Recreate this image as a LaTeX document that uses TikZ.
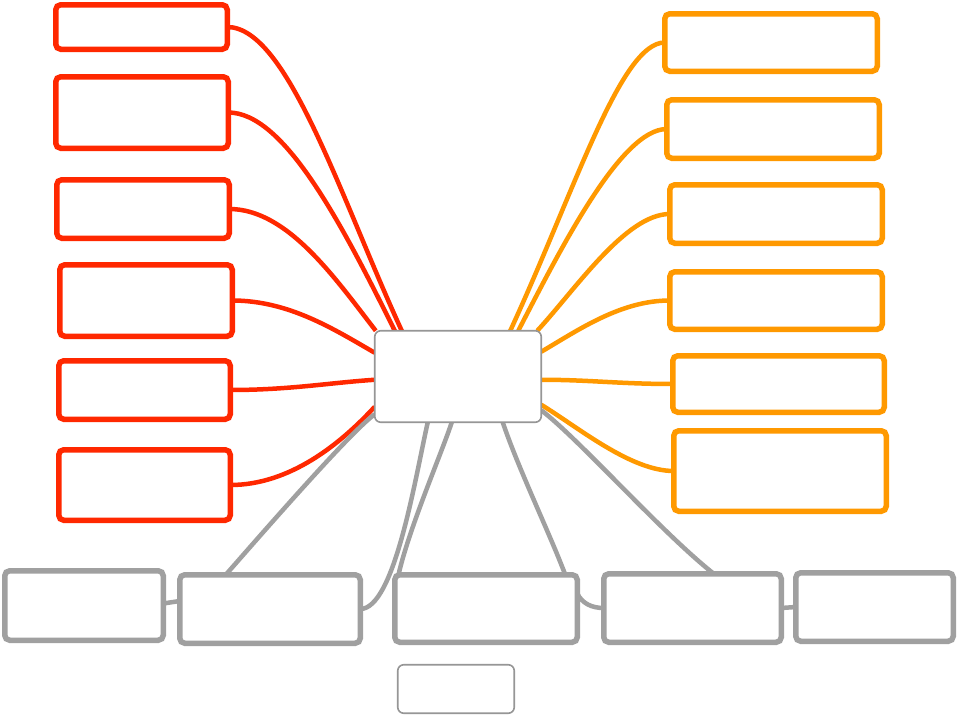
\documentclass[tikz,border=0pt]{standalone}
\usetikzlibrary{calc}
\definecolor{mred}{RGB}{255,40,0}
\definecolor{morange}{RGB}{255,153,0}
\definecolor{mgray}{RGB}{160,160,160}
\definecolor{cgray}{RGB}{150,150,150}
\pgfdeclarelayer{bg}
\pgfdeclarelayer{paper}
\pgfsetlayers{paper,bg,main}
\tikzset{
  box/.style={draw, fill=white, rounded corners=5pt, line width=5.5pt, inner sep=0pt, outer sep=0pt},
  redbox/.style={box, draw=mred},
  orangebox/.style={box, draw=morange},
  graybox/.style={box, draw=mgray},
  thinbox/.style={draw=cgray, fill=white, rounded corners=6pt, line width=1.6pt, inner sep=0pt, outer sep=0pt},
  redline/.style={draw=mred, line width=4.5pt},
  orangeline/.style={draw=morange, line width=4.5pt},
  grayline/.style={draw=mgray, line width=4.5pt},
}
\begin{document}
\begin{tikzpicture}[x=1pt, y=-1pt]
\begin{pgfonlayer}{paper}
\fill[white] (0,0) rectangle (959,715);
\end{pgfonlayer}
\useasboundingbox (0,0) rectangle (959,715);

% center
\node[thinbox, minimum width=166.5pt, minimum height=91.5pt] (cen) at (458,376.5) {};

% red boxes
\node[redbox, minimum width=171.5pt, minimum height=44.5pt] (r1) at (141.5,27) {};
\node[redbox, minimum width=172.5pt, minimum height=71.5pt] (r2) at (142,112.5) {};
\node[redbox, minimum width=172.5pt, minimum height=58.5pt] (r3) at (143,209) {};
\node[redbox, minimum width=172.5pt, minimum height=71.5pt] (r4) at (146,300.5) {};
\node[redbox, minimum width=171.5pt, minimum height=58.5pt] (r5) at (144.5,390) {};
\node[redbox, minimum width=171.5pt, minimum height=70.5pt] (r6) at (144.5,485) {};

% orange boxes
\node[orangebox, minimum width=212.5pt, minimum height=57.5pt] (o1) at (771,42.5) {};
\node[orangebox, minimum width=212.5pt, minimum height=58.5pt] (o2) at (773,129) {};
\node[orangebox, minimum width=212.5pt, minimum height=58.5pt] (o3) at (776,214) {};
\node[orangebox, minimum width=212.5pt, minimum height=57.5pt] (o4) at (776,300.5) {};
\node[orangebox, minimum width=211.5pt, minimum height=56.5pt] (o5) at (778.5,384) {};
\node[orangebox, minimum width=212.5pt, minimum height=80.5pt] (o6) at (780,471) {};

% gray boxes
\node[graybox, minimum width=158.5pt, minimum height=69.5pt] (g1) at (84,605.5) {};
\node[graybox, minimum width=180.5pt, minimum height=68.5pt] (g2) at (270,609) {};
\node[graybox, minimum width=182.5pt, minimum height=67.5pt] (g3) at (486,608.5) {};
\node[graybox, minimum width=177.5pt, minimum height=68.5pt] (g4) at (692.5,608) {};
\node[graybox, minimum width=157.5pt, minimum height=68.5pt] (g5) at (874.5,607) {};
\node[thinbox, minimum width=116.5pt, minimum height=48.5pt] (g6) at (456,689) {};

\begin{pgfonlayer}{bg}
% red connectors
\draw[redline] (r1.east) .. controls +(60,0) and +(-62,-135) .. ([xshift=27pt]cen.north west);
\draw[redline] (r2.east) .. controls +(55,0) and +(-55,-111) .. ([xshift=20pt]cen.north west);
\draw[redline] (r3.east) .. controls +(58,0) and +(-41,-53) .. ([xshift=1pt]cen.north west);
\draw[redline] (r4.east) .. controls +(57,0) and +(-40,-23) .. ([yshift=-22pt]cen.north west);
\draw[redline] (r5.east) .. controls +(59,0) and +(-45,3) .. ([yshift=-49pt]cen.north west);
\draw[redline] (r6.east) .. controls +(59,0) and +(-35,38) .. ([yshift=-76pt]cen.north west);

% orange connectors
\draw[orangeline] (o1.west) .. controls +(-44,0) and +(65,-141) .. ([xshift=-31pt]cen.north east);
\draw[orangeline] (o2.west) .. controls +(-46,0) and +(42,-81) .. ([xshift=-23pt]cen.north east);
\draw[orangeline] (o3.west) .. controls +(-44,0) and +(38,-41) .. ([xshift=-4pt]cen.north east);
\draw[orangeline] (o4.west) .. controls +(-49,0) and +(37.5,-22) .. ([yshift=-21pt]cen.north east);
\draw[orangeline] (o5.west) .. controls +(-52,0) and +(47,0) .. ([yshift=-49pt]cen.north east);
\draw[orangeline] (o6.west) .. controls +(-43,0) and +(37.5,23) .. ([yshift=-74pt]cen.north east);

% gray connectors
\draw[grayline] ([yshift=8pt]cen.south west) .. controls +(-25,18) and +(30,-34) .. ([xshift=46pt]g2.north west);
\draw[grayline] ([xshift=53pt]cen.south west) .. controls +(-13,58) and +(34,0) .. (g2.east);
\draw[grayline] ([xshift=77pt]cen.south west) .. controls +(-12,37) and +(-1,-40) .. ([yshift=6pt]g3.west);
\draw[grayline] ([xshift=128pt]cen.south west) .. controls +(15,45) and +(-15,-40) .. ([xshift=-12pt]g3.north east);
\draw[grayline] ([yshift=12pt]cen.south east) .. controls +(39,30) and +(-53,-42) .. ([xshift=110pt]g4.north west);
\draw[grayline] ([yshift=2pt]g1.east) -- ([yshift=8pt]g2.west);
\draw[grayline] ([yshift=15pt]g3.east) .. controls +(5,10) and +(-12,0) .. (g4.west);
\draw[grayline] (g4.east) -- (g5.west);
\end{pgfonlayer}
\end{tikzpicture}
\end{document}
